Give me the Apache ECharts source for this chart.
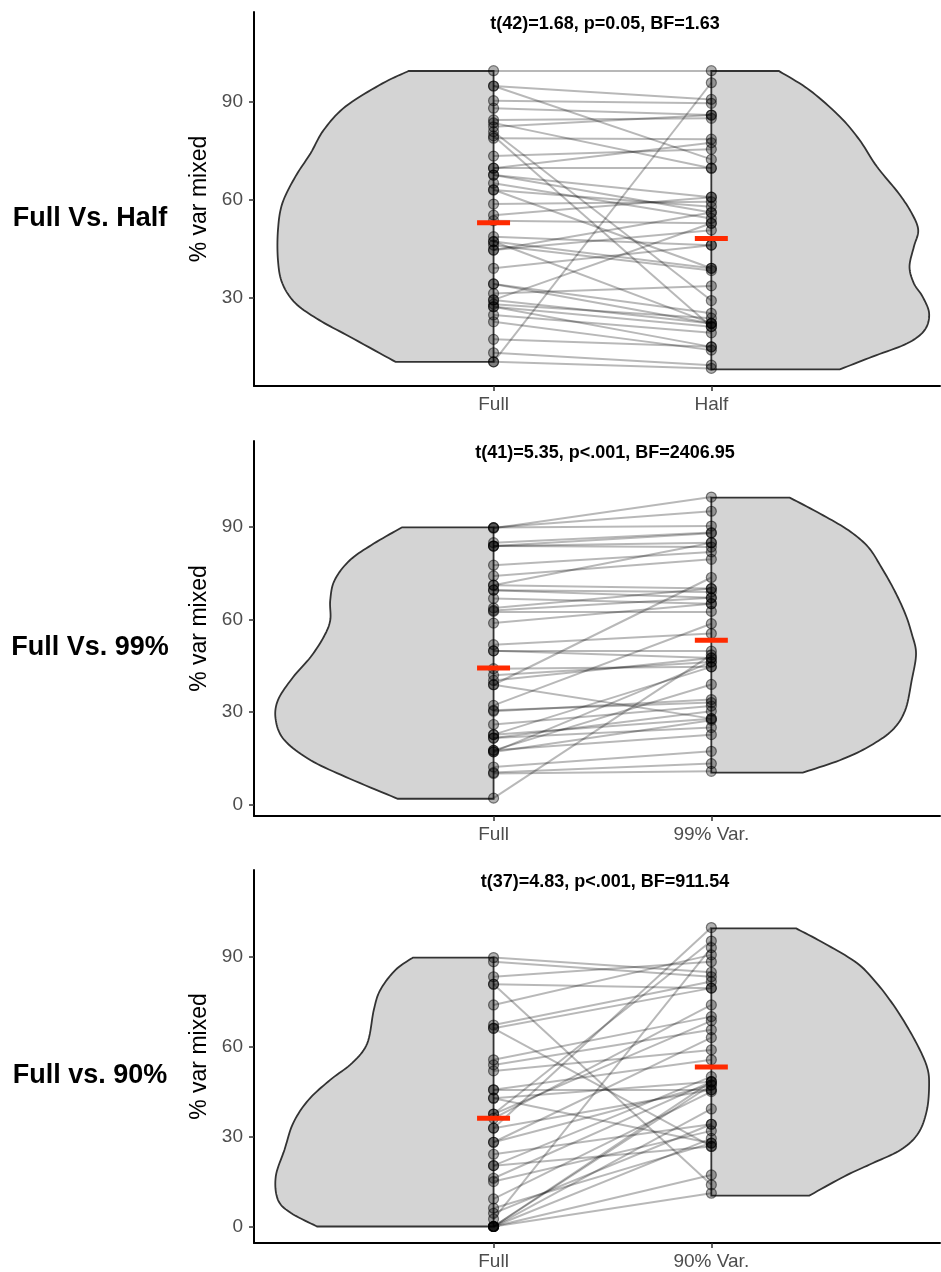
<!DOCTYPE html>
<html>
<head>
<meta charset="utf-8">
<script src="https://cdn.jsdelivr.net/npm/echarts@6.0.0/dist/echarts.min.js"></script>
<style>
  html, body { margin: 0; padding: 0; background: #fff; }
  #chart { width: 941px; height: 1272px; }
</style>
</head>
<body>
<div id="chart"></div>
<script>
// labels
const rowLabels = ['Full Vs. Half', 'Full Vs. 99%', 'Full vs. 90%'];
const statLabels = ['t(42)=1.68, p=0.05, BF=1.63', 't(41)=5.35, p<.001, BF=2406.95', 't(37)=4.83, p<.001, BF=911.54'];
const catLabels = [['Full', 'Half'], ['Full', '99% Var.'], ['Full', '90% Var.']];
const yTicks = [[30, 60, 90], [0, 30, 60, 90], [0, 30, 60, 90]];

// paired values (% var mixed), same index = same subject
const p1Full = [99.5, 94.8, 94.8, 90.3, 88.0, 84.4, 83.5, 80.8, 79.5, 78.8, 73.3, 69.6, 69.6, 67.5, 67.5, 65.0, 62.9, 58.6, 55.2, 53.5, 48.6, 47.1, 47.1, 46.0, 44.5, 38.9, 34.1, 34.1, 31.2, 29.2, 29.2, 27.1, 27.1, 24.6, 22.5, 17.1, 13.0, 10.2, 10.2, 27.9, 44.5, 82.3, 63.0];
const p1Half = [99.5, 90.7, 72.3, 89.5, 85.9, 84.9, 69.6, 29.0, 21.0, 78.5, 75.4, 77.4, 69.6, 60.7, 56.0, 54.2, 57.8, 59.3, 60.7, 52.7, 46.0, 38.9, 22.0, 38.2, 50.6, 46.0, 25.1, 22.0, 33.5, 52.7, 22.0, 21.0, 14.8, 19.1, 13.8, 14.8, 9.2, 95.8, 8.2, 23.6, 56.0, 85.9, 38.9];

const p2Full = [89.8, 89.6, 89.8, 84.9, 83.8, 83.8, 77.6, 74.1, 71.1, 69.5, 69.5, 66.8, 63.7, 62.6, 58.8, 51.8, 49.8, 49.8, 44.0, 41.9, 40.2, 38.8, 38.8, 32.1, 30.2, 25.9, 22.6, 22.6, 21.5, 21.5, 17.5, 17.5, 17.0, 17.0, 12.1, 10.3, 10.0, 2.0, 62.9, 30.5, 71.1, 83.8];
const p2Var99 = [95.1, 99.7, 90.3, 88.2, 84.9, 83.5, 81.9, 79.5, 84.9, 68.9, 67.0, 65.1, 70.0, 62.6, 65.1, 55.4, 49.7, 47.5, 44.6, 46.2, 47.5, 73.6, 27.8, 58.6, 34.0, 31.9, 27.8, 44.6, 30.2, 24.9, 38.9, 22.6, 27.3, 46.2, 17.2, 13.2, 10.7, 48.5, 67.0, 33.0, 70.0, 88.0];

const p3Full = [89.7, 88.3, 83.3, 80.8, 80.8, 73.9, 67.2, 66.1, 66.1, 55.6, 53.9, 51.9, 45.6, 42.8, 42.8, 37.5, 37.5, 36.1, 32.8, 32.8, 28.1, 28.1, 24.1, 20.3, 20.3, 16.1, 15.0, 9.2, 6.1, 4.4, 0, 0, 0, 0, 0, 0, 45.6, 2.5];
const p3Var90 = [84.8, 83.3, 88.3, 79.5, 13.9, 90.6, 81.7, 79.5, 26.7, 70.0, 65.6, 58.9, 55.6, 27.8, 48.3, 95.2, 68.6, 73.9, 99.7, 45.6, 47.2, 63.0, 34.1, 26.7, 50.0, 48.3, 31.9, 45.0, 27.8, 34.1, 47.2, 48.3, 39.2, 29.4, 17.2, 11.1, 45.6, 93.0];

// group means (red bars)
const p1Mean = [52.9, 48.0];
const p2Mean = [44.2, 53.2];
const p3Mean = [36.1, 53.2];

// half-violin density profiles: [value, half width in category units], bottom -> top
const p1FullDens = [[10.2, 0.45], [17.9, 0.66], [23.0, 0.80], [28.2, 0.91], [34.3, 0.97], [41.4, 0.99], [50.6, 0.99], [58.8, 0.97], [67.0, 0.91], [74.2, 0.84], [81.3, 0.78], [88.5, 0.68], [95.6, 0.51], [99.4, 0.39]];
const p1HalfDens = [[7.9, 0.59], [11.8, 0.74], [15.9, 0.90], [20.0, 0.98], [25.1, 1.0], [30.2, 0.97], [34.3, 0.93], [39.4, 0.91], [45.5, 0.93], [50.6, 0.95], [55.8, 0.92], [61.9, 0.86], [70.1, 0.76], [78.3, 0.68], [85.4, 0.59], [93.6, 0.45], [99.4, 0.31]];
const p2FullDens = [[1.8, 0.44], [8.3, 0.66], [14.3, 0.84], [20.8, 0.96], [27.3, 1.0], [33.8, 0.99], [41.3, 0.92], [47.8, 0.84], [54.3, 0.78], [59.7, 0.75], [66.2, 0.75], [72.7, 0.73], [79.2, 0.66], [84.6, 0.55], [89.9, 0.42]];
const p2Var99Dens = [[10.3, 0.42], [14.3, 0.59], [18.6, 0.72], [24.0, 0.83], [30.5, 0.89], [40.2, 0.92], [48.9, 0.94], [55.4, 0.92], [61.9, 0.89], [69.5, 0.84], [77.0, 0.78], [83.5, 0.72], [88.9, 0.63], [94.3, 0.50], [99.5, 0.36]];
const p3FullDens = [[0, 0.81], [4.5, 0.93], [8.9, 0.99], [16.7, 1.0], [25.6, 0.96], [34.5, 0.92], [42.2, 0.85], [48.9, 0.75], [54.5, 0.65], [61.1, 0.58], [72.2, 0.55], [78.9, 0.52], [85.6, 0.45], [89.7, 0.37]];
const p3Var90Dens = [[10.3, 0.45], [16.7, 0.61], [21.1, 0.74], [25.6, 0.87], [31.1, 0.95], [38.9, 0.99], [47.8, 1.0], [53.3, 0.99], [60.0, 0.95], [67.8, 0.89], [74.5, 0.83], [81.1, 0.76], [87.8, 0.67], [94.4, 0.52], [99.4, 0.39]];

const panels = [
  { a: p1Full, b: p1Half, mean: p1Mean, densA: p1FullDens, densB: p1HalfDens, top: 12, height: 374, yMin: 2.8, yMax: 117.5 },
  { a: p2Full, b: p2Var99, mean: p2Mean, densA: p2FullDens, densB: p2Var99Dens, top: 441, height: 375, yMin: -3.8, yMax: 117.9 },
  { a: p3Full, b: p3Var90, mean: p3Mean, densA: p3FullDens, densB: p3Var90Dens, top: 870, height: 373, yMin: -5.5, yMax: 118.9 }
];

const FONT = '"Liberation Sans", Arial, Helvetica, sans-serif';

// catmull-rom through pixel points so the violin edge is a smooth curve
function smoothPts(pts) {
  const out = [];
  const n = pts.length;
  for (let i = 0; i < n - 1; i++) {
    const p0 = pts[Math.max(i - 1, 0)], p1 = pts[i], p2 = pts[i + 1], p3 = pts[Math.min(i + 2, n - 1)];
    for (let k = 0; k < 10; k++) {
      const t = k / 10, t2 = t * t, t3 = t2 * t;
      const f = j => 0.5 * (2 * p1[j] + (-p0[j] + p2[j]) * t + (2 * p0[j] - 5 * p1[j] + 4 * p2[j] - p3[j]) * t2 + (-p0[j] + 3 * p1[j] - 3 * p2[j] + p3[j]) * t3);
      out.push([f(0), f(1)]);
    }
  }
  out.push(pts[n - 1]);
  return out;
}

function violin(dens, xc, side) {
  return function (params, api) {
    const edge = smoothPts(dens.map(d => api.coord([xc + side * d[1], d[0]])));
    const bottom = api.coord([xc, dens[0][0]]);
    const top = api.coord([xc, dens[dens.length - 1][0]]);
    return {
      type: 'polygon',
      shape: { points: [bottom].concat(edge, [top]) },
      style: { fill: '#d4d4d4', stroke: '#333333', lineWidth: 1.8 }
    };
  };
}

let grid = [], xAxis = [], yAxis = [], series = [], title = [];

panels.forEach((p, i) => {
  grid.push({ left: 254, right: 1, top: p.top, height: p.height });
  xAxis.push({
    gridIndex: i, type: 'value', min: -0.1, max: 3.05,
    splitLine: { show: false },
    axisLine: { onZero: false, lineStyle: { color: '#000', width: 2 } },
    axisTick: { customValues: [1, 2], length: 5, lineStyle: { color: '#333', width: 1.5 } },
    axisLabel: {
      customValues: [1, 2], margin: 9, color: '#4d4d4d', fontSize: 19, fontFamily: FONT,
      formatter: v => catLabels[i][v - 1]
    }
  });
  yAxis.push({
    gridIndex: i, type: 'value', min: p.yMin, max: p.yMax,
    splitLine: { show: false },
    axisLine: { onZero: false, lineStyle: { color: '#000', width: 2 } },
    axisTick: { customValues: yTicks[i], length: 5, lineStyle: { color: '#333', width: 1.5 } },
    axisLabel: { customValues: yTicks[i], margin: 11, color: '#4d4d4d', fontSize: 19, fontFamily: FONT },
    name: '% var mixed', nameLocation: 'middle', nameGap: 38,
    nameTextStyle: { color: '#000', fontSize: 23, fontFamily: FONT }
  });

  title.push({
    text: statLabels[i], left: 600, top: p.top - 2, textAlign: 'center',
    textStyle: { fontSize: 18, fontWeight: 'bold', color: '#000', fontFamily: FONT }
  });
  title.push({
    text: rowLabels[i], left: 85, top: p.top + p.height / 2 + 1, textAlign: 'center',
    textStyle: { fontSize: 27, fontWeight: 'bold', color: '#000', fontFamily: FONT }
  });

  // half violins
  series.push({
    type: 'custom', xAxisIndex: i, yAxisIndex: i, z: 1, silent: true,
    renderItem: violin(p.densA, 1, -1), data: [[1, 50]]
  });
  series.push({
    type: 'custom', xAxisIndex: i, yAxisIndex: i, z: 1, silent: true,
    renderItem: violin(p.densB, 2, 1), data: [[2, 50]]
  });
  // paired lines
  series.push({
    type: 'lines', coordinateSystem: 'cartesian2d', xAxisIndex: i, yAxisIndex: i, z: 2, silent: true,
    lineStyle: { color: '#000', opacity: 0.28, width: 2 },
    data: p.a.map((v, k) => ({ coords: [[1, v], [2, p.b[k]]] }))
  });
  // points
  series.push({
    type: 'scatter', xAxisIndex: i, yAxisIndex: i, z: 3, silent: true,
    symbolSize: 10,
    itemStyle: { color: 'rgba(0,0,0,0.38)', borderColor: 'rgba(0,0,0,0.6)', borderWidth: 1.2 },
    data: p.a.map(v => [1, v]).concat(p.b.map(v => [2, v]))
  });
  // means
  series.push({
    type: 'scatter', xAxisIndex: i, yAxisIndex: i, z: 4, silent: true,
    symbol: 'rect', symbolSize: [33, 5],
    itemStyle: { color: '#ff2a00', opacity: 1 },
    data: [[1, p.mean[0]], [2, p.mean[1]]]
  });
});

const chart = echarts.init(document.getElementById('chart'), null, { renderer: 'canvas' });
chart.setOption({
  backgroundColor: '#fff',
  animation: false,
  title: title,
  grid: grid,
  xAxis: xAxis,
  yAxis: yAxis,
  series: series
});
</script>
</body>
</html>
